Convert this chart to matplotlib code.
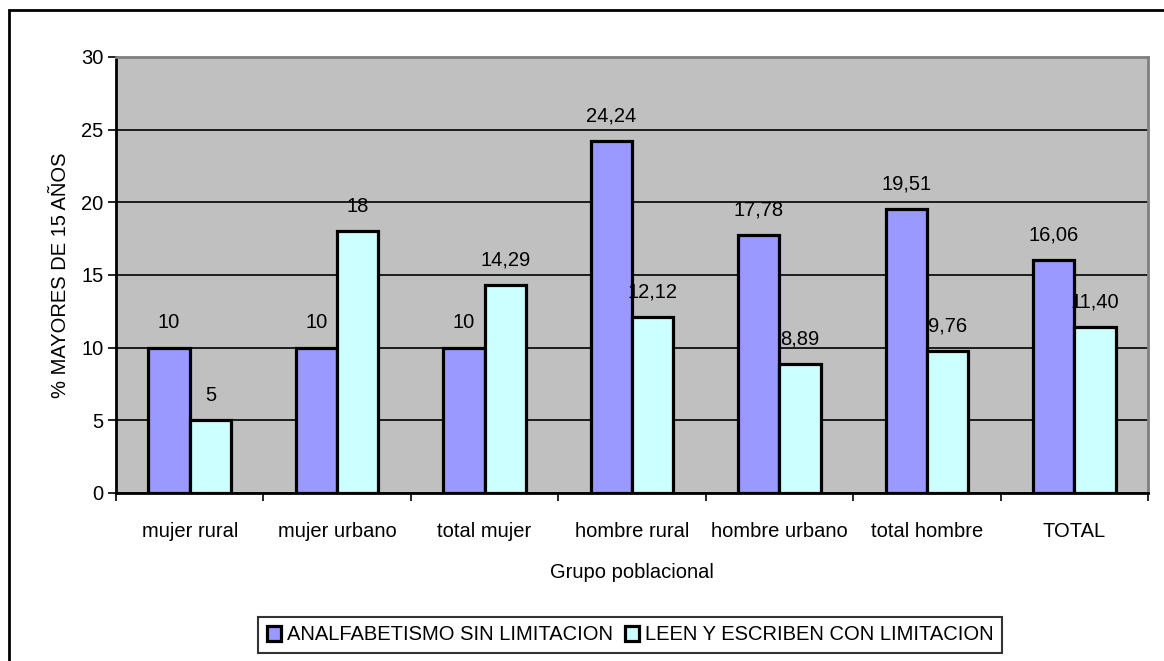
import matplotlib.pyplot as plt
import numpy as np
from matplotlib.patches import Rectangle

plt.rcParams['font.family'] = ['Liberation Sans', 'DejaVu Sans']

# Data per population group
grupos = ['mujer rural', 'mujer urbano', 'total mujer', 'hombre rural',
          'hombre urbano', 'total hombre', 'TOTAL']
analfabetismo = [10, 10, 10, 24.24, 17.78, 19.51, 16.06]
limitacion = [5, 18, 14.29, 12.12, 8.89, 9.76, 11.40]
etiquetas_analf = ['10', '10', '10', '24,24', '17,78', '19,51', '16,06']
etiquetas_lim = ['5', '18', '14,29', '12,12', '8,89', '9,76', '11,40']

fs = 14.5

fig = plt.figure(figsize=(11.64, 6.61), dpi=100)
ax = fig.add_axes([116 / 1164, 1 - 493 / 661, (1148 - 116) / 1164, (493 - 57) / 661])

# outer chart frame
fig.patches.append(Rectangle((9 / 1164, -0.05), 1.2, 1 - 10 / 661 + 0.05,
                             transform=fig.transFigure, fill=False,
                             edgecolor='black', linewidth=2))

x = np.arange(len(grupos))
w = 0.28
ax.set_facecolor('#C0C0C0')
b1 = ax.bar(x - w / 2, analfabetismo, w, color='#9999FF', edgecolor='black',
            linewidth=2.3, zorder=3, label='ANALFABETISMO SIN LIMITACION')
b2 = ax.bar(x + w / 2, limitacion, w, color='#CCFFFF', edgecolor='black',
            linewidth=2.3, zorder=3, label='LEEN Y ESCRIBEN CON LIMITACION')

for rects, labs in ((b1, etiquetas_analf), (b2, etiquetas_lim)):
    for r, t in zip(rects, labs):
        ax.annotate(t, (r.get_x() + r.get_width() / 2, r.get_height()),
                    xytext=(0, 18), textcoords='offset points',
                    ha='center', va='center', fontsize=fs, zorder=4)

ax.set_xlim(-0.5, len(grupos) - 0.5)
ax.set_ylim(0, 30)
ax.set_yticks(range(0, 31, 5))
ax.yaxis.grid(True, color='black', linewidth=1.2, zorder=1)
ax.set_xticks(x)
ax.set_xticklabels(grupos, fontsize=fs)
ax.set_xticks(np.arange(-0.5, len(grupos)), minor=True)
ax.tick_params(axis='x', which='major', length=0, pad=21)
ax.tick_params(axis='x', which='minor', length=6, width=1.2, direction='out')
ax.tick_params(axis='y', length=6, width=1.2, labelsize=fs, pad=3)

for s in ('top', 'right'):
    ax.spines[s].set_color('#808080')
    ax.spines[s].set_linewidth(2)
for s in ('left', 'bottom'):
    ax.spines[s].set_color('black')
    ax.spines[s].set_linewidth(2)

ax.set_ylabel('% MAYORES DE 15 AÑOS', fontsize=fs, labelpad=8)
ax.set_xlabel('Grupo poblacional', fontsize=fs, labelpad=16)

leg = fig.legend(loc='center', bbox_to_anchor=(630 / 1164, 1 - 635 / 661),
                 ncol=2, fontsize=fs, frameon=True, fancybox=False,
                 edgecolor='black', handlelength=0.7, handleheight=0.7,
                 handletextpad=0.3, columnspacing=0.6, borderpad=0.4)
leg.get_frame().set_linewidth(1.5)

fig.savefig('out.png', dpi=100)
